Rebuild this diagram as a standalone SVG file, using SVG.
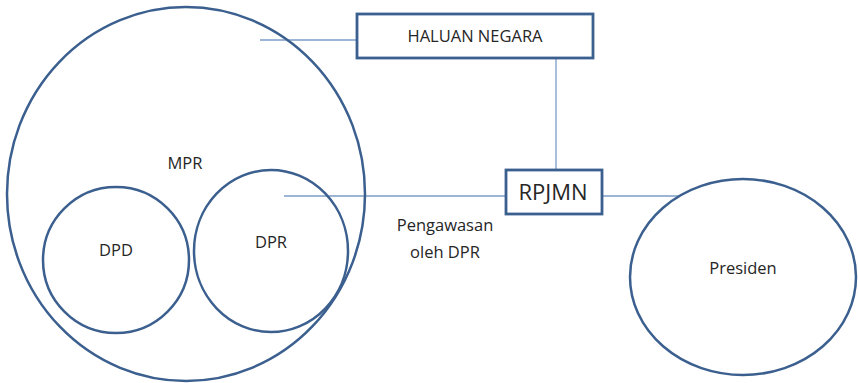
<svg xmlns="http://www.w3.org/2000/svg" width="858" height="383" viewBox="0 0 858 383">
<style>
.shape{fill:none;stroke:#3b5f8e;stroke-width:2.5}
.box{fill:#fff;stroke:#3b5f8e;stroke-width:2.8}
.conn{fill:none;stroke:#7b9cc6;stroke-width:1.3}
text{font-family:"Open Sans","Liberation Sans",sans-serif;font-size:16.5px;fill:#262626;text-anchor:middle}
</style>
<rect width="858" height="383" fill="#fff"/>
<g id="connectors">
<line class="conn" x1="260" y1="40" x2="357" y2="40"/>
<line class="conn" x1="556" y1="58" x2="556" y2="170"/>
<line class="conn" x1="284" y1="196" x2="506" y2="196"/>
<line class="conn" x1="602" y1="196" x2="680" y2="196"/>
</g>
<g id="mpr">
<ellipse class="shape" cx="186" cy="194" rx="179" ry="187"/>
<text x="185" y="169">MPR</text>
</g>
<g id="dpd">
<circle class="shape" cx="116" cy="260" r="73"/>
<text x="116" y="256">DPD</text>
</g>
<g id="dpr">
<ellipse class="shape" cx="271" cy="251" rx="77" ry="81"/>
<text x="271" y="248">DPR</text>
</g>
<g id="haluan-negara">
<rect class="box" x="357" y="14" width="236" height="44"/>
<text x="475" y="42">HALUAN NEGARA</text>
</g>
<g id="rpjmn">
<rect class="box" x="506" y="170" width="96" height="44"/>
<text x="553" y="200" style="font-size:22px">RPJMN</text>
</g>
<g id="pengawasan">
<text x="445" y="231">Pengawasan</text>
<text x="445" y="258">oleh DPR</text>
</g>
<g id="presiden">
<ellipse class="shape" cx="743" cy="277" rx="113" ry="98"/>
<text x="743" y="274">Presiden</text>
</g>
</svg>
